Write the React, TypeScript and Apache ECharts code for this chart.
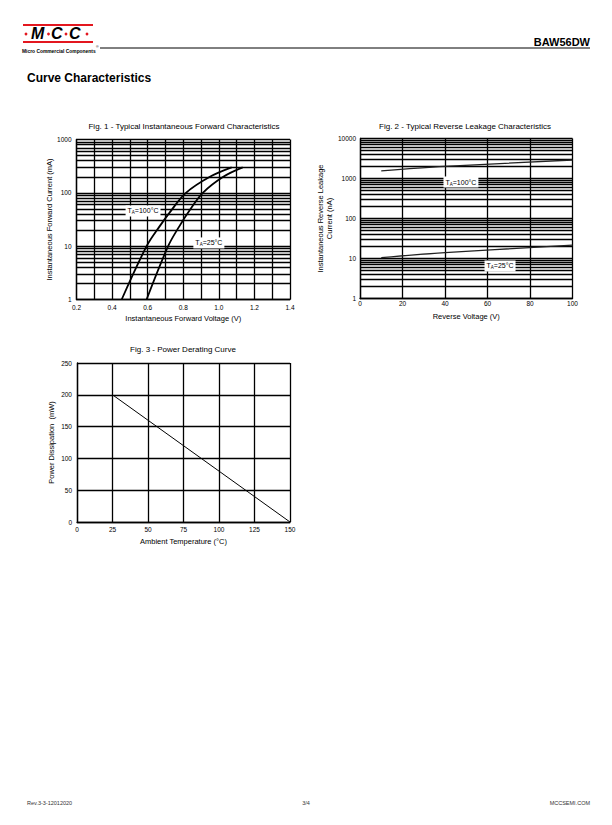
import React, { useEffect, useRef } from 'react';
import * as echarts from 'echarts';

const FONT = '"Liberation Sans", Arial, Helvetica, sans-serif';

// ---------- Fig. 1 : forward characteristics ----------
const fig1V100 = [0.454, 0.594, 0.665, 0.735, 0.815, 0.95, 1.072];
const fig1I100 = [1, 10, 23, 48, 100, 200, 300];
const fig1V25 = [0.594, 0.715, 0.776, 0.838, 0.91, 1.025, 1.134];
const fig1I25 = [1, 10, 23, 48, 100, 200, 300];
const fig1Decades = [1, 10, 100];

// ---------- Fig. 2 : reverse leakage ----------
const fig2V = [10, 40, 100];
const fig2I100 = [1550, 2000, 2900];
const fig2I25 = [10.5, 14, 21.5];
const fig2Decades = [1, 10, 100, 1000];

// ---------- Fig. 3 : power derating ----------
const fig3T = [25, 150];
const fig3P = [200, 0];

const minorMultipliers = [2, 3, 4, 5, 6, 7, 8, 9];

const minorValues = (decades: number[]) => {
  const out: number[] = [];
  decades.forEach((d) => minorMultipliers.forEach((m) => out.push(d * m)));
  return out;
};

const GRIDW = 1.3;
const gridLine = { show: true, lineStyle: { color: '#000', width: GRIDW } };
const axisLine = { show: true, lineStyle: { color: '#000', width: GRIDW } };
const labelStyle = { color: '#000', fontSize: 6.5, fontFamily: FONT };
const nameStyle = { color: '#000', fontSize: 7.5, fontFamily: FONT };

const tLabel = (text: string) => ({
  show: true,
  formatter: text,
  backgroundColor: '#fff',
  padding: [1, 2, 1, 2],
  color: '#000',
  fontSize: 7,
  fontFamily: FONT,
  lineHeight: 9,
  rich: {
    s: { fontSize: 4.5, fontFamily: FONT, color: '#000', verticalAlign: 'bottom', lineHeight: 9, padding: [4, 0, 0, 0] },
  },
});

const minorMarkLine = (decades: number[]) => ({
  silent: true,
  symbol: ['none', 'none'],
  label: { show: false },
  lineStyle: { color: '#000', width: GRIDW, type: 'solid' },
  emphasis: { disabled: true },
  data: minorValues(decades).map((v) => ({ yAxis: v })),
});

const txt = (text: string, x: number, y: number, size: number, opts: any = {}) => ({
  type: 'text',
  x,
  y,
  style: {
    text,
    fontSize: size,
    fontFamily: FONT,
    fontWeight: opts.bold ? 'bold' : 'normal',
    fontStyle: opts.italic ? 'italic' : 'normal',
    fill: opts.color || '#000',
    align: opts.align || 'left',
    textAlign: opts.align || 'left',
    verticalAlign: 'middle',
    textVerticalAlign: 'middle',
  },
});

export default function App() {
  const ref = useRef<HTMLDivElement>(null);

  useEffect(() => {
    if (!ref.current) return;
    const chart = echarts.init(ref.current, null, { renderer: 'svg' });

    const curve = {
      type: 'line',
      smooth: 0.35,
      showSymbol: false,
      symbol: 'none',
      z: 5,
    };

    const option: any = {
      animation: false,
      backgroundColor: '#fff',
      grid: [
        { left: 76.5, top: 139.5, width: 213.5, height: 160, show: false },
        { left: 360, top: 138.5, width: 212.5, height: 160, show: false },
        { left: 77, top: 363, width: 213, height: 159, show: false },
      ],
      xAxis: [
        {
          gridIndex: 0,
          type: 'value',
          min: 0.2,
          max: 1.4,
          interval: 0.2,
          axisLine,
          axisTick: { show: false },
          minorTick: { show: false, splitNumber: 2 },
          splitLine: gridLine,
          minorSplitLine: gridLine,
          axisLabel: { ...labelStyle, margin: 4, formatter: (v: number) => v.toFixed(1) },
          name: 'Instantaneous Forward Voltage (V)',
          nameLocation: 'middle',
          nameGap: 15,
          nameTextStyle: nameStyle,
        },
        {
          gridIndex: 1,
          type: 'value',
          min: 0,
          max: 100,
          interval: 20,
          axisLine,
          axisTick: { show: false },
          splitLine: gridLine,
          axisLabel: { ...labelStyle, margin: 1 },
          name: 'Reverse Voltage (V)',
          nameLocation: 'middle',
          nameGap: 14,
          nameTextStyle: nameStyle,
        },
        {
          gridIndex: 2,
          type: 'value',
          min: 0,
          max: 150,
          interval: 25,
          axisLine,
          axisTick: { show: false },
          splitLine: gridLine,
          axisLabel: { ...labelStyle, margin: 4 },
          name: 'Ambient Temperature (°C)',
          nameLocation: 'middle',
          nameGap: 15,
          nameTextStyle: nameStyle,
        },
      ],
      yAxis: [
        {
          gridIndex: 0,
          type: 'log',
          logBase: 10,
          min: 1,
          max: 1000,
          axisLine,
          axisTick: { show: false },
          splitLine: gridLine,
          axisLabel: { ...labelStyle, margin: 5, formatter: (v: number) => String(Math.round(v)) },
          name: 'Instantaneous Forward Current (mA)',
          nameLocation: 'middle',
          nameGap: 22,
          nameTextStyle: nameStyle,
        },
        {
          gridIndex: 1,
          type: 'log',
          logBase: 10,
          min: 1,
          max: 10000,
          axisLine,
          axisTick: { show: false },
          splitLine: gridLine,
          axisLabel: { ...labelStyle, margin: 4, formatter: (v: number) => String(Math.round(v)) },
          name: 'Instantaneous Reverse Leakage\nCurrent (nA)',
          nameLocation: 'middle',
          nameGap: 24,
          nameTextStyle: { ...nameStyle, lineHeight: 9 },
        },
        {
          gridIndex: 2,
          type: 'value',
          min: 0,
          max: 250,
          interval: 50,
          axisLine,
          axisTick: { show: false },
          splitLine: gridLine,
          axisLabel: { ...labelStyle, margin: 5 },
          name: 'Power Dissipation  (mW)',
          nameLocation: 'middle',
          nameGap: 22,
          nameTextStyle: nameStyle,
        },
      ],
      series: [
        {
          ...curve,
          name: 'TA=100°C',
          xAxisIndex: 0,
          yAxisIndex: 0,
          data: fig1V100.map((v, i) => [v, fig1I100[i]]),
          lineStyle: { color: '#000', width: 1.8 },
          markLine: minorMarkLine(fig1Decades),
          markPoint: {
            symbolSize: 0,
            data: [{ coord: [0.574, 45.8], label: tLabel('T{s|A}=100°C') }],
          },
        },
        {
          ...curve,
          name: 'TA=25°C',
          xAxisIndex: 0,
          yAxisIndex: 0,
          data: fig1V25.map((v, i) => [v, fig1I25[i]]),
          lineStyle: { color: '#000', width: 1.8 },
          markPoint: {
            symbolSize: 0,
            data: [{ coord: [0.944, 11.5], label: tLabel('T{s|A}=25°C') }],
          },
        },
        {
          ...curve,
          name: 'TA=100°C leak',
          xAxisIndex: 1,
          yAxisIndex: 1,
          data: fig2V.map((v, i) => [v, fig2I100[i]]),
          lineStyle: { color: '#222', width: 1.3 },
          markLine: minorMarkLine(fig2Decades),
          markPoint: {
            symbolSize: 0,
            data: [{ coord: [47.5, 816], label: tLabel('T{s|A}=100°C') }],
          },
        },
        {
          ...curve,
          name: 'TA=25°C leak',
          xAxisIndex: 1,
          yAxisIndex: 1,
          data: fig2V.map((v, i) => [v, fig2I25[i]]),
          lineStyle: { color: '#222', width: 1.3 },
          markPoint: {
            symbolSize: 0,
            data: [{ coord: [65.9, 6.5], label: tLabel('T{s|A}=25°C') }],
          },
        },
        {
          type: 'line',
          name: 'Derating',
          xAxisIndex: 2,
          yAxisIndex: 2,
          data: fig3T.map((t, i) => [t, fig3P[i]]),
          showSymbol: false,
          symbol: 'none',
          lineStyle: { color: '#000', width: 1 },
          z: 5,
        },
      ],
      graphic: [
        // logo
        { type: 'rect', shape: { x: 23, y: 24, width: 70, height: 2 }, style: { fill: '#e3171f' } },
        { type: 'rect', shape: { x: 23, y: 41, width: 70, height: 2 }, style: { fill: '#e3171f' } },
        { type: 'circle', shape: { cx: 26, cy: 34, r: 1.4 }, style: { fill: '#e3171f' } },
        txt('M', 31, 33.5, 16, { bold: true, italic: true }),
        { type: 'circle', shape: { cx: 48.5, cy: 34, r: 1.4 }, style: { fill: '#e3171f' } },
        txt('C', 51, 33.5, 16, { bold: true, italic: true }),
        { type: 'circle', shape: { cx: 66, cy: 34, r: 1.4 }, style: { fill: '#e3171f' } },
        txt('C', 69, 33.5, 16, { bold: true, italic: true }),
        { type: 'circle', shape: { cx: 87, cy: 34, r: 1.4 }, style: { fill: '#e3171f' } },
        txt('Micro Commercial Components', 22, 51, 4.9, { bold: true }),
        txt('®', 96, 47, 3.5),
        { type: 'line', shape: { x1: 100, y1: 48, x2: 590, y2: 48 }, style: { stroke: '#000', lineWidth: 1 } },
        txt('BAW56DW', 590, 42, 11, { bold: true, align: 'right' }),
        txt('Curve Characteristics', 27, 78, 12, { bold: true }),
        // figure titles
        txt('Fig. 1 - Typical Instantaneous Forward Characteristics', 184, 126, 8, { align: 'center' }),
        txt('Fig. 2 - Typical Reverse Leakage Characteristics', 465, 126, 8, { align: 'center' }),
        txt('Fig. 3 - Power Derating Curve', 183, 349, 8, { align: 'center' }),
        // footer
        txt('Rev.3-3-12012020', 27, 803, 5.5, { color: '#333' }),
        txt('3/4', 306, 803, 5.5, { color: '#333', align: 'center' }),
        txt('MCCSEMI.COM', 590, 803, 5.5, { color: '#333', align: 'right' }),
      ],
    };

    chart.setOption(option);
    return () => chart.dispose();
  }, []);

  return (
    <div
      ref={ref}
      style={{ position: 'absolute', left: 0, top: 0, width: 612, height: 825, background: '#fff' }}
    />
  );
}
